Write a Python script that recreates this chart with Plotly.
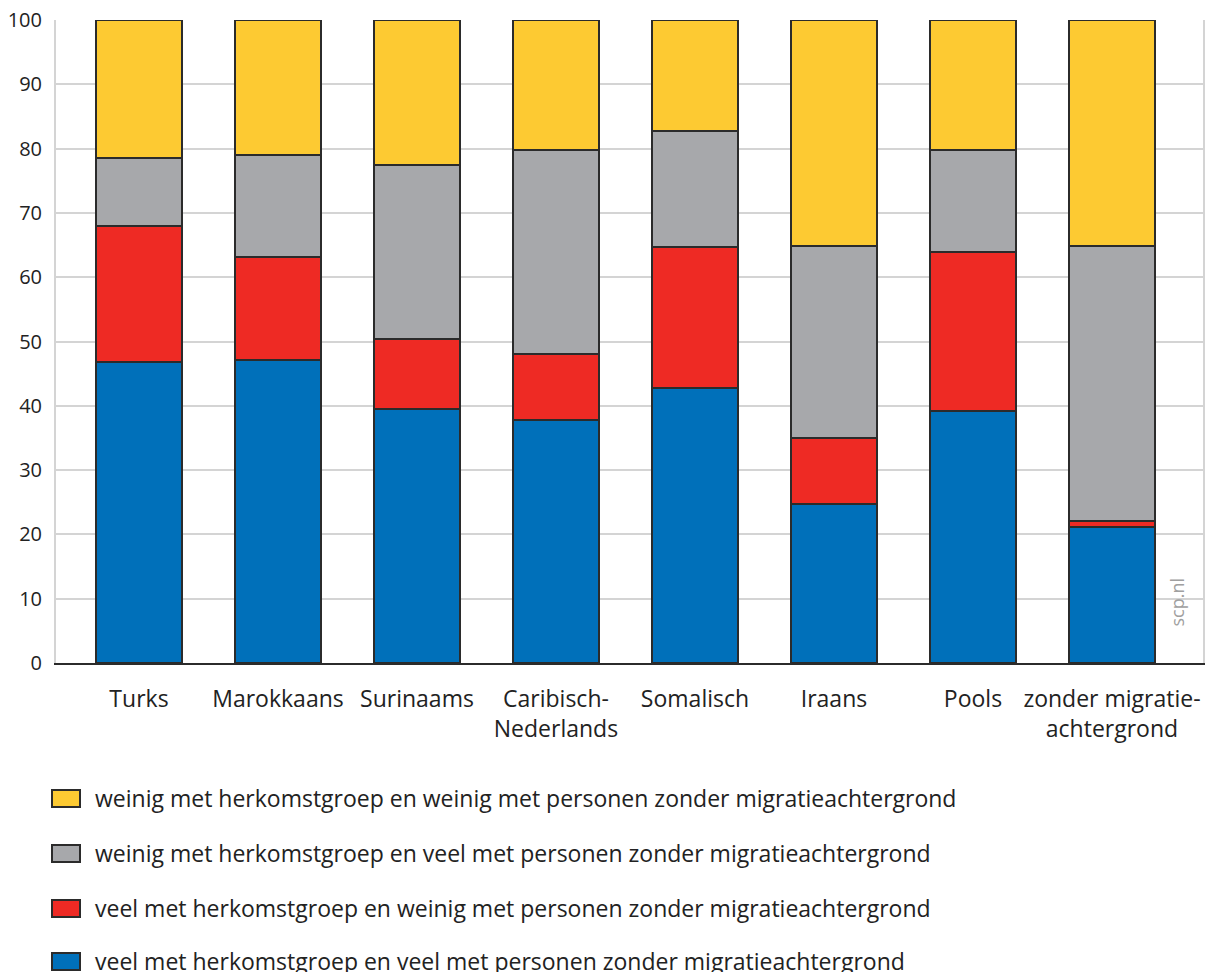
import plotly.graph_objects as go

# groups on the x-axis
groups = ["Turks", "Marokkaans", "Surinaams", "Caribisch-<br>Nederlands",
          "Somalisch", "Iraans", "Pools", "zonder migratie-<br>achtergrond"]

# stacked shares (%), bottom to top
veel_veel = [46.8, 47.1, 39.5, 37.8, 42.8, 24.7, 39.2, 21.2]
veel_weinig = [21.2, 16.0, 10.9, 10.3, 21.9, 10.3, 24.7, 0.9]
weinig_veel = [10.5, 15.9, 27.0, 31.7, 18.0, 29.9, 15.9, 42.8]
weinig_weinig = [21.5, 21.0, 22.6, 20.2, 17.3, 35.1, 20.2, 35.1]

series_names = [
    "veel met herkomstgroep en veel met personen zonder migratieachtergrond",
    "veel met herkomstgroep en weinig met personen zonder migratieachtergrond",
    "weinig met herkomstgroep en veel met personen zonder migratieachtergrond",
    "weinig met herkomstgroep en weinig met personen zonder migratieachtergrond",
]
series_values = [veel_veel, veel_weinig, weinig_veel, weinig_weinig]
colors = ["#0070BA", "#EE2A24", "#A7A8AB", "#FDCA32"]

FONT = "Open Sans, Noto Sans, sans-serif"
TXT = "#222222"

# body margin is removed in the page, so figure pixels == screenshot pixels
PLOT_L, PLOT_R, PLOT_T, PLOT_B = 56, 1203, 20, 663
W, H = 1207, 972
ML, MT = PLOT_L, PLOT_T
MR = W - PLOT_R
MB = H - PLOT_B
PW, PH = PLOT_R - PLOT_L, PLOT_B - PLOT_T

def px_x(x):
    return (x - PLOT_L) / PW

def px_y(y):
    return (PLOT_B - y) / PH

fig = go.Figure()
for name, vals, col in zip(series_names, series_values, colors):
    fig.add_trace(go.Bar(
        x=list(range(len(groups))), y=vals, name=name, width=0.62,
        marker=dict(color=col, line=dict(color="#2b2b2b", width=2)),
        showlegend=False,
    ))

# legend drawn by hand: yellow, gray, red, blue from top to bottom
legend_y = [798, 853, 908, 961]
for i, (name, col) in enumerate(zip(series_names[::-1], colors[::-1])):
    yc = legend_y[i]
    fig.add_shape(type="rect", xref="paper", yref="paper",
                  x0=px_x(52), x1=px_x(80), y0=px_y(yc - 8), y1=px_y(yc + 9),
                  fillcolor=col, line=dict(color="#2b2b2b", width=2))
    fig.add_annotation(text=name, xref="paper", yref="paper",
                       x=px_x(93), y=px_y(yc), xanchor="left", yanchor="middle",
                       showarrow=False, font=dict(family=FONT, size=23, color=TXT))

fig.add_annotation(text="scp.nl", textangle=-90, xref="paper", yref="paper",
                   x=px_x(1190), y=px_y(629), showarrow=False,
                   font=dict(family=FONT, size=18, color="#a0a0a0"))

fig.update_layout(
    barmode="stack",
    width=W, height=H,
    margin=dict(l=ML, r=MR, t=MT, b=MB),
    plot_bgcolor="white", paper_bgcolor="white",
    font=dict(family=FONT, size=23, color=TXT),
    xaxis=dict(tickmode="array", tickvals=list(range(len(groups))), ticktext=groups,
               range=[-0.597, 7.655], showgrid=False, showline=True,
               linecolor="#2b2b2b", linewidth=2, ticks="", ticklabelstandoff=14,
               tickfont=dict(size=23, color=TXT)),
    yaxis=dict(range=[0, 100], dtick=10, showgrid=True, gridcolor="#d4d4d4",
               gridwidth=2, showline=True, linecolor="#d4d4d4", linewidth=2,
               mirror=True, ticks="", zeroline=False, ticklabelstandoff=8,
               ticklabeloverflow="allow", automargin=False,
               tickfont=dict(size=20, color=TXT)),
)

fig.write_html("out.html", config={"displayModeBar": False},
               post_script="document.body.style.margin='0';")
